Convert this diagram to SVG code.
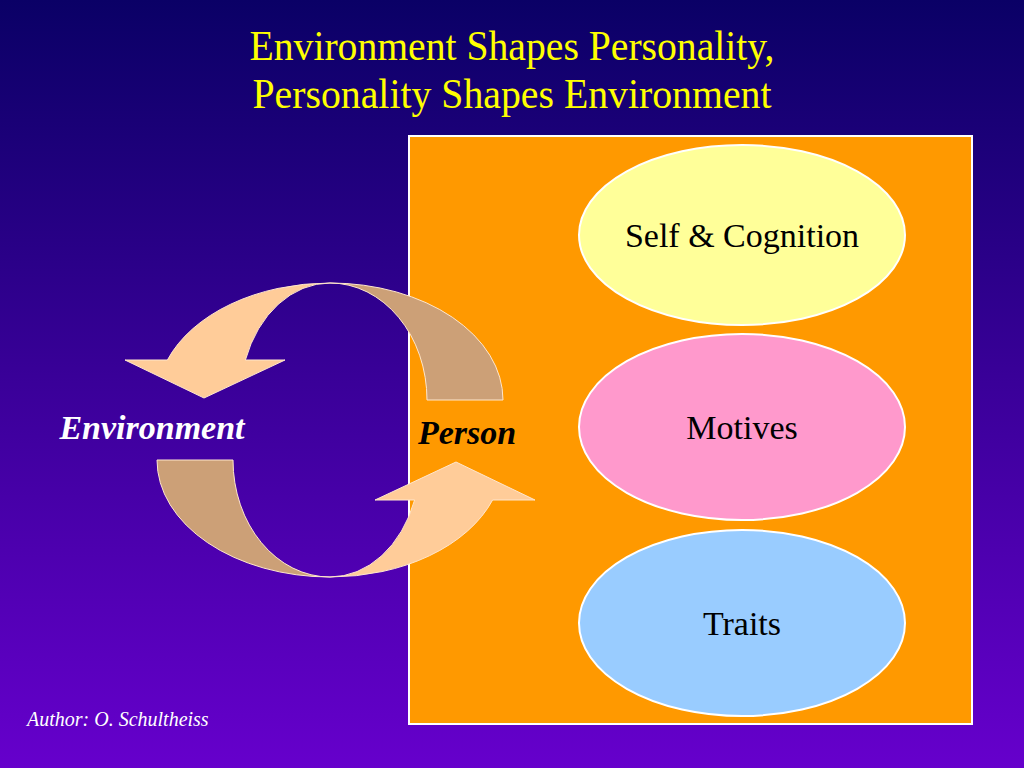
<svg xmlns="http://www.w3.org/2000/svg" width="1024" height="768" viewBox="0 0 1024 768">
  <defs>
    <linearGradient id="bg" x1="0" y1="0" x2="0" y2="1">
      <stop offset="0" stop-color="#0A0066"/>
      <stop offset="0.5" stop-color="#3A0099"/>
      <stop offset="1" stop-color="#6600CC"/>
    </linearGradient>
  </defs>
  <style>
    .title { font-family: "Liberation Serif", "Times New Roman", serif; font-size: 42px; fill: #FFFF00; text-anchor: middle; }
    .lbl { font-family: "Liberation Serif", "Times New Roman", serif; font-size: 34px; fill: #000000; text-anchor: middle; }
    .bi { font-family: "Liberation Serif", "Times New Roman", serif; font-size: 34px; font-weight: bold; font-style: italic; }
    .node { stroke: #FFFFFF; stroke-width: 2; }
    .front { fill: #FFCC99; stroke: #FFE6CC; stroke-width: 1; }
    .back { fill: #CCA077; stroke: #FFE6CC; stroke-width: 1; }
  </style>
  <rect x="0" y="0" width="1024" height="768" fill="url(#bg)"/>

  <g id="title">
    <text class="title" x="512" y="60" textLength="525" lengthAdjust="spacingAndGlyphs">Environment Shapes Personality,</text>
    <text class="title" x="512" y="108" textLength="519" lengthAdjust="spacingAndGlyphs">Personality Shapes Environment</text>
  </g>

  <g id="person-box">
    <rect class="node" x="409" y="136" width="563" height="588" fill="#FF9900"/>
  </g>

  <g id="self-cognition">
    <ellipse class="node" cx="742" cy="235" rx="163" ry="90" fill="#FFFF99"/>
    <text class="lbl" x="742" y="247">Self &amp; Cognition</text>
  </g>
  <g id="motives">
    <ellipse class="node" cx="742" cy="427" rx="163" ry="93" fill="#FF99CC"/>
    <text class="lbl" x="742" y="439">Motives</text>
  </g>
  <g id="traits">
    <ellipse class="node" cx="742" cy="623" rx="163" ry="93" fill="#99CCFF"/>
    <text class="lbl" x="742" y="635">Traits</text>
  </g>

  <g id="connectors">
    <g id="arrow-top">
      <path class="back" d="M 330 283 A 173 117 0 0 1 503 400 L 427 400 A 97 117 0 0 0 330 283 Z"/>
      <path class="front" d="M 330 283 A 173 117 0 0 0 167.4 360 L 125 360 L 204 398 L 285 360 L 245.4 360 A 90 117 0 0 1 330 283 Z"/>
    </g>
    <g id="arrow-bottom" transform="rotate(180 330 430)">
      <path class="back" d="M 330 283 A 173 117 0 0 1 503 400 L 427 400 A 97 117 0 0 0 330 283 Z"/>
      <path class="front" d="M 330 283 A 173 117 0 0 0 167.4 360 L 125 360 L 204 398 L 285 360 L 245.4 360 A 90 117 0 0 1 330 283 Z"/>
    </g>
  </g>

  <g id="environment">
    <text class="bi" x="152" y="439" fill="#FFFFFF" text-anchor="middle">Environment</text>
  </g>
  <g id="person">
    <text class="bi" x="467" y="444" fill="#000000" text-anchor="middle">Person</text>
  </g>

  <g id="author">
    <text x="27" y="726" font-family="Liberation Serif, 'Times New Roman', serif" font-size="20" font-style="italic" fill="#FFFFFF">Author: O. Schultheiss</text>
  </g>
</svg>
